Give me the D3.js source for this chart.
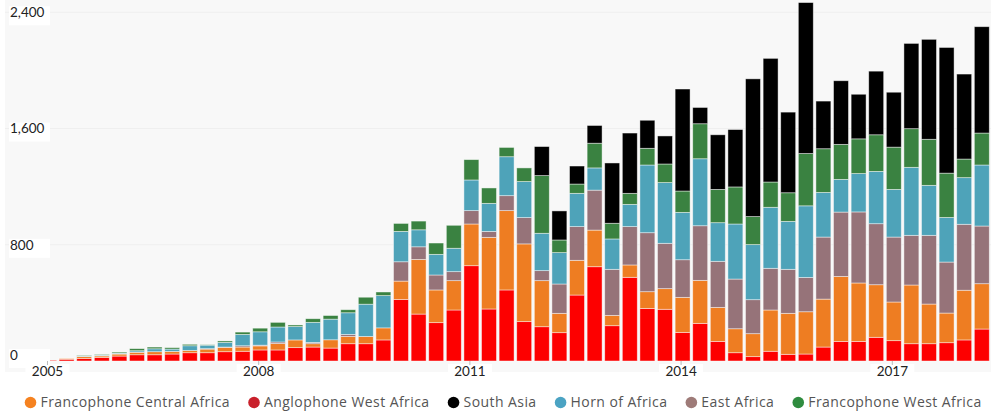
<!DOCTYPE html>
<html>
<head>
<meta charset="utf-8">
<script src="https://cdn.jsdelivr.net/npm/d3@7"></script>
<style>
  body { margin: 0; background: #fff; }
  svg { display: block; }
  .tick-label { font-family: Lato, "Open Sans", sans-serif; font-size: 13.5px; fill: #222; }
  .legend text { font-family: "Open Sans", "Noto Sans", sans-serif; font-size: 14px; fill: #555; letter-spacing: 0.43px; }
</style>
</head>
<body>
<div class="chart_area"></div>
<script>
// quarters, 2005 Q1 .. 2018 Q2
const quarters = [
  "2005Q1","2005Q2","2005Q3","2005Q4","2006Q1","2006Q2","2006Q3","2006Q4",
  "2007Q1","2007Q2","2007Q3","2007Q4","2008Q1","2008Q2","2008Q3","2008Q4",
  "2009Q1","2009Q2","2009Q3","2009Q4","2010Q1","2010Q2","2010Q3","2010Q4",
  "2011Q1","2011Q2","2011Q3","2011Q4","2012Q1","2012Q2","2012Q3","2012Q4",
  "2013Q1","2013Q2","2013Q3","2013Q4","2014Q1","2014Q2","2014Q3","2014Q4",
  "2015Q1","2015Q2","2015Q3","2015Q4","2016Q1","2016Q2","2016Q3","2016Q4",
  "2017Q1","2017Q2","2017Q3","2017Q4","2018Q1","2018Q2"
]

const anglophoneWest = [5,12,18,25,34,43,43,48,57,57,64,67,76,76,92,96,89,119,119,145,424,323,264,351,656,358,489,271,236,195,454,649,243,576,362,356,197,259,135,57,30,67,46,48,96,135,135,163,140,119,119,126,145,220]
const francoCentral = [0,5,12,10,14,17,21,18,16,25,30,29,28,44,53,23,57,50,50,83,126,376,225,202,287,493,546,535,317,133,239,252,71,85,115,142,241,296,234,165,158,284,282,291,330,447,402,362,266,404,273,204,342,312]
const eastAfrica = [0,0,2,2,2,2,0,0,0,3,2,9,5,11,0,9,0,14,0,0,133,87,103,62,92,41,103,181,69,202,232,275,317,264,406,312,259,376,317,342,234,287,303,236,427,443,489,420,447,342,473,351,454,397]
const hornOfAfrica = [0,0,3,5,5,9,20,16,32,24,32,78,92,103,92,138,142,149,222,222,209,117,142,161,211,193,268,248,257,216,229,153,209,153,466,418,326,461,266,379,379,420,330,493,307,225,264,360,328,468,344,307,321,420]
const francoWest = [0,0,4,4,7,14,12,10,10,3,10,16,25,32,11,25,25,21,48,25,55,60,78,158,140,106,64,94,397,87,64,170,108,76,115,128,147,241,229,255,193,174,197,360,301,241,239,252,291,266,317,305,128,220]
const southAsia = [0,0,0,0,0,0,0,0,0,0,0,0,0,0,0,0,0,0,0,0,0,0,0,0,0,0,0,0,200,200,124,122,415,415,193,193,702,112,376,395,948,851,555,1039,328,438,307,438,378,587,688,865,585,732]

const yTicks = [0, 800, 1600, 2400]
const yearTicks = ["2005Q1","2008Q1","2011Q1","2014Q1","2017Q1"]

// stack order bottom -> top
const series = [
  { key: "Anglophone West Africa", values: anglophoneWest, color: "#fd0000", dot: "#c9202b" },
  { key: "Francophone Central Africa", values: francoCentral, color: "#ee7d22", dot: "#f58220" },
  { key: "East Africa", values: eastAfrica, color: "#967379", dot: "#9e7b78" },
  { key: "Horn of Africa", values: hornOfAfrica, color: "#4ea3b9", dot: "#4ba3c3" },
  { key: "Francophone West Africa", values: francoWest, color: "#3a8241", dot: "#2f8c3f" },
  { key: "South Asia", values: southAsia, color: "#000000", dot: "#000000" }
]
const legendOrder = ["Francophone Central Africa","Anglophone West Africa","South Asia","Horn of Africa","East Africa","Francophone West Africa"]

const width = 991, height = 412
const rows = quarters.map((q, i) => {
  const r = { q: q }
  series.forEach(s => { r[s.key] = s.values[i] })
  return r
})

const svg = d3.select('.chart_area')
  .append('svg')
  .attr('width', width)
  .attr('height', height)

// plot background
svg.append('rect')
  .attr('x', 5).attr('y', 0)
  .attr('width', width - 5).attr('height', 372)
  .attr('fill', '#f8f8f8')

const xScale = d3.scaleBand()
  .domain(quarters)
  .range([40.2, 990.6])
  .paddingInner(0.15)
  .paddingOuter(0.075)

const yScale = d3.scaleLinear()
  .domain([0, 2400])
  .range([361, 12.3])

// grid
svg.append('g')
  .selectAll('line')
  .data(yTicks.filter(d => d > 0))
  .join('line')
  .attr('x1', 5).attr('x2', width)
  .attr('y1', d => yScale(d)).attr('y2', d => yScale(d))
  .attr('stroke', '#efefef')
  .attr('stroke-width', 1)

const stacked = d3.stack().keys(series.map(s => s.key))(rows)
const colorOf = d3.scaleOrdinal().domain(series.map(s => s.key)).range(series.map(s => s.color))

svg.append('g')
  .selectAll('g')
  .data(stacked)
  .join('g')
  .attr('fill', d => colorOf(d.key))
  .selectAll('rect')
  .data(d => d.filter(p => p[1] - p[0] > 0))
  .join('rect')
  .attr('x', d => xScale(d.data.q))
  .attr('width', xScale.bandwidth())
  .attr('y', d => yScale(d[1]))
  .attr('height', d => yScale(d[0]) - yScale(d[1]))
  .attr('stroke', 'rgba(255,255,255,0.55)')
  .attr('stroke-width', 0.8)

// y labels with white boxes
const yl = svg.append('g')
  .selectAll('g')
  .data(yTicks)
  .join('g')
  .attr('transform', d => `translate(0, ${d === 0 ? yScale(d) - 6 : yScale(d)})`)
yl.append('rect')
  .attr('x', 9).attr('y', -6)
  .attr('width', 41).attr('height', 19)
  .attr('fill', '#fff')
yl.append('text')
  .attr('class', 'tick-label')
  .attr('x', 10).attr('dy', '0.35em')
  .text(d => d3.format(',')(d))

// x ticks + labels
const xl = svg.append('g')
  .selectAll('g')
  .data(yearTicks)
  .join('g')
  .attr('transform', d => `translate(${xScale(d) + xScale.bandwidth() / 2 - 1.5}, 0)`)
xl.append('rect')
  .attr('x', -22).attr('y', 364)
  .attr('width', 44).attr('height', 17)
  .attr('fill', '#fff')
xl.append('line')
  .attr('y1', 361).attr('y2', 365)
  .attr('stroke', '#bbb')
xl.append('text')
  .attr('class', 'tick-label')
  .attr('y', 371).attr('dy', '0.35em')
  .attr('text-anchor', 'middle')
  .text(d => d.slice(0, 4))

// legend, laid out in a row
const legend = svg.append('g').attr('class', 'legend')
let lx = 24.5
legendOrder.forEach(k => {
  const s = series.find(d => d.key === k)
  const item = legend.append('g').attr('transform', `translate(${lx}, 402.5)`)
  item.append('circle').attr('cx', 6).attr('r', 5.8).attr('fill', s.dot)
  const t = item.append('text').attr('x', 16).attr('dy', '0.35em').text(k)
  lx += 16 + t.node().getComputedTextLength() + 18
})
</script>
</body>
</html>
